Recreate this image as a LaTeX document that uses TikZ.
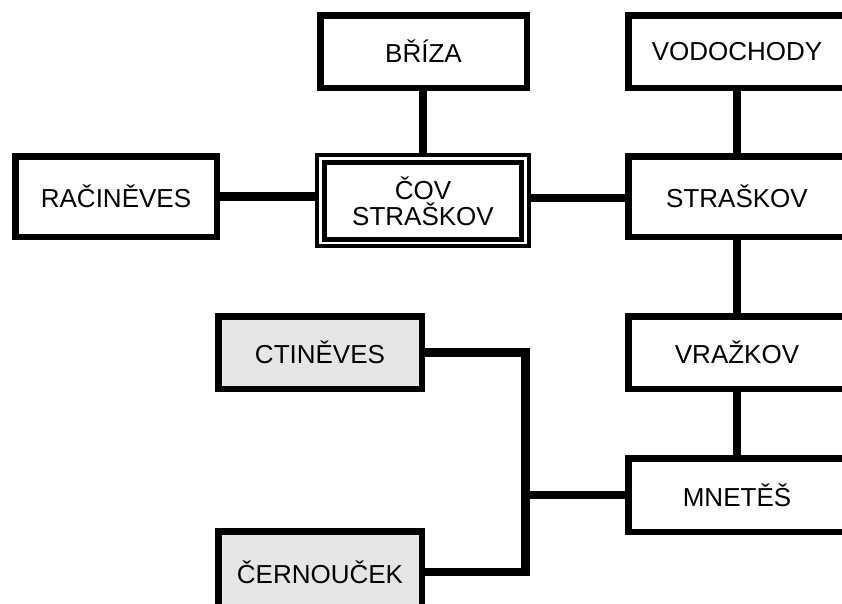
\documentclass[tikz,border=0pt]{standalone}
\usepackage{fontspec}
\setmainfont{Liberation Sans}
\definecolor{boxgrey}{RGB}{230,230,230}
\begin{document}
\begin{tikzpicture}[x=1pt,y=-1pt,
  box/.style={draw=black, fill=white, line width=6.5pt, inner sep=0pt,
    font=\fontsize{26}{26}\selectfont, align=center},
  greybox/.style={box, fill=boxgrey},
  conn/.style={draw=black, line width=8.5pt, line join=miter}]
\useasboundingbox (0,0) rectangle (842,603);
\clip (0,0) rectangle (842,603);
\fill[white] (0,0) rectangle (842,603);
% nodes
\node[box, minimum width=206.5pt, minimum height=72.5pt] (briza) at (423.5,51.5) {BŘÍZA};
\node[box, minimum width=201.5pt, minimum height=80.5pt] (racineves) at (116,196.5) {RAČINĚVES};
\node[box, line width=4pt, minimum width=212pt, minimum height=91pt] (covout) at (423,200.5) {};
\node[box, line width=5pt, minimum width=197pt, minimum height=77pt] (cov) at (423,201) {ČOV\\STRAŠKOV};
\node[box, minimum width=217.5pt, minimum height=72.5pt] (vodochody) at (737,51.5) {VODOCHODY};
\node[box, minimum width=217.5pt, minimum height=80.5pt] (straskov) at (737,196.5) {STRAŠKOV};
\node[box, minimum width=217.5pt, minimum height=72.5pt] (vrazkov) at (737,352.5) {VRAŽKOV};
\node[box, minimum width=217.5pt, minimum height=73.5pt] (mnetes) at (737,495) {MNETĚŠ};
\node[greybox, minimum width=203.5pt, minimum height=72.5pt] (ctineves) at (320,352.5) {CTINĚVES};
\node[greybox, minimum width=203.5pt, minimum height=81.5pt] (cernoucek) at (320,572) {ČERNOUČEK};
% connectors
\draw[conn] (briza.south -| cov.north) -- (covout.north);
\draw[conn] (racineves.east) -- (racineves.east -| covout.west);
\draw[conn] (covout.east |- 0,198) coordinate (c1) -- (c1 -| straskov.west);
\draw[conn] (vodochody.south) -- (straskov.north);
\draw[conn] (straskov.south) -- (vrazkov.north);
\draw[conn] (vrazkov.south) -- (mnetes.north);
\coordinate (j1) at (525.5,352.5);
\coordinate (j2) at (j1 |- mnetes.west);
\draw[conn] (ctineves.east) -- (j1) -- (j1 |- cernoucek.east) -- (cernoucek.east);
\draw[conn] (j2) -- (mnetes.west);
\end{tikzpicture}
\end{document}
